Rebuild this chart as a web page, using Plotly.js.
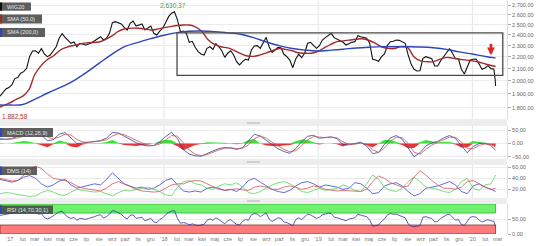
<!DOCTYPE html>
<html><head><meta charset="utf-8">
<script src="https://cdn.plot.ly/plotly-3.0.1.min.js"></script>
<style>html,body{margin:0;padding:0;background:#fff;}#chart{width:536px;height:246px;}</style>
</head><body><div id="chart"></div>
<script>
// ---------- DATA ----------
const weekDates = ['2016-12-09','2016-12-16','2016-12-23','2016-12-30',
'2017-01-06','2017-01-13','2017-01-20','2017-01-27','2017-02-03','2017-02-10','2017-02-17','2017-02-24','2017-03-03','2017-03-10','2017-03-17','2017-03-24','2017-03-31','2017-04-07','2017-04-14','2017-04-21','2017-04-28','2017-05-05','2017-05-12','2017-05-19','2017-05-26','2017-06-02','2017-06-09','2017-06-16','2017-06-23','2017-06-30','2017-07-07','2017-07-14','2017-07-21','2017-07-28','2017-08-04','2017-08-11','2017-08-18','2017-08-25','2017-09-01','2017-09-08','2017-09-15','2017-09-22','2017-09-29','2017-10-06','2017-10-13','2017-10-20','2017-10-27','2017-11-03','2017-11-10','2017-11-17','2017-11-24','2017-12-01','2017-12-08','2017-12-15','2017-12-22','2017-12-29',
'2018-01-05','2018-01-12','2018-01-19','2018-01-26','2018-02-02','2018-02-09','2018-02-16','2018-02-23','2018-03-02','2018-03-09','2018-03-16','2018-03-23','2018-03-30','2018-04-06','2018-04-13','2018-04-20','2018-04-27','2018-05-04','2018-05-11','2018-05-18','2018-05-25','2018-06-01','2018-06-08','2018-06-15','2018-06-22','2018-06-29','2018-07-06','2018-07-13','2018-07-20','2018-07-27','2018-08-03','2018-08-10','2018-08-17','2018-08-24','2018-08-31','2018-09-07','2018-09-14','2018-09-21','2018-09-28','2018-10-05','2018-10-12','2018-10-19','2018-10-26','2018-11-02','2018-11-09','2018-11-16','2018-11-23','2018-11-30','2018-12-07','2018-12-14','2018-12-21','2018-12-28',
'2019-01-04','2019-01-11','2019-01-18','2019-01-25','2019-02-01','2019-02-08','2019-02-15','2019-02-22','2019-03-01','2019-03-08','2019-03-15','2019-03-22','2019-03-29','2019-04-05','2019-04-12','2019-04-19','2019-04-26','2019-05-03','2019-05-10','2019-05-17','2019-05-24','2019-05-31','2019-06-07','2019-06-14','2019-06-21','2019-06-28','2019-07-05','2019-07-12','2019-07-19','2019-07-26','2019-08-02','2019-08-09','2019-08-16','2019-08-23','2019-08-30','2019-09-06','2019-09-13','2019-09-20','2019-09-27','2019-10-04','2019-10-11','2019-10-18','2019-10-25','2019-11-01','2019-11-08','2019-11-15','2019-11-22','2019-11-29','2019-12-06','2019-12-13','2019-12-20','2019-12-27',
'2020-01-03','2020-01-10','2020-01-17','2020-01-24','2020-01-31','2020-02-07','2020-02-14','2020-02-21','2020-02-24','2020-02-25'];

const wig20 = [1882.58,1915,1938,1948,
1969,2019,2027,2062,2075,2103,2202,2252,2254,2232,2273,2226,2202,2217,2254,2290,2368,2411,2377,2346,2322,2334,2290,2322,2316,2306,2316,2327,2346,2368,2383,2352,2368,2415,2519,2529,2519,2506,2473,2447,2513,2536,2486,2493,2506,2447,2467,2486,2415,2399,2437,2464,
2519,2580,2615,2630.37,2547,2431,2437,2415,2331,2340,2285,2246,2226,2217,2276,2290,2267,2318,2290,2254,2196,2232,2254,2217,2159,2131,2159,2179,2173,2261,2297,2300,2276,2322,2377,2290,2240,2261,2285,2282,2223,2202,2173,2108,2182,2223,2193,2232,2322,2331,2306,2276,
2300,2352,2374,2399,2415,2374,2362,2343,2331,2306,2322,2331,2337,2393,2383,2377,2368,2322,2179,2173,2162,2202,2226,2303,2337,2340,2352,2349,2337,2322,2217,2139,2095,2081,2083,2188,2202,2196,2184,2122,2122,2167,2202,2246,2273,2232,2184,2184,2095,2056,2112,2173,
2179,2182,2139,2095,2106,2125,2100,2095,2010,1960];

const rsi = [62,64,66,67,
69,74,73,76,75,77,82,80,76,66,68,55,50,54,60,66,74,76,64,56,52,55,46,52,51,49,52,54,58,62,64,53,58,66,78,76,70,66,56,50,62,64,52,54,56,44,48,52,40,38,48,54,
64,72,76,78,52,36,38,36,30,34,30,28,30,32,46,50,46,54,48,42,34,44,48,40,32,30,42,48,46,64,68,66,58,64,70,50,42,48,54,52,40,38,34,28,48,54,48,56,66,64,58,52,
56,64,66,70,68,56,54,50,48,44,50,52,54,66,62,60,58,46,26,28,30,42,50,64,68,66,66,62,58,54,34,26,24,26,28,56,58,54,52,40,42,52,58,64,66,56,46,48,32,28,44,56,
58,56,46,40,44,48,44,42,30,25];

const smaDates = ['2016-12-09','2017-01-01','2017-01-15','2017-02-01','2017-02-15','2017-03-01','2017-03-15','2017-04-01','2017-04-15','2017-05-01','2017-05-15','2017-06-01','2017-07-01','2017-08-01','2017-08-15','2017-09-01','2017-09-15','2017-10-01','2017-11-01','2017-12-01','2017-12-15','2018-01-01','2018-01-15','2018-02-01','2018-02-15','2018-03-01','2018-03-15','2018-04-01','2018-04-15','2018-05-01','2018-05-15','2018-06-01','2018-06-15','2018-07-01','2018-07-15','2018-08-01','2018-08-15','2018-09-01','2018-09-15','2018-10-01','2018-10-15','2018-11-01','2018-11-15','2018-12-01','2018-12-15','2019-01-01','2019-01-15','2019-02-01','2019-02-15','2019-03-01','2019-03-15','2019-04-01','2019-04-15','2019-05-01','2019-05-15','2019-06-01','2019-06-15','2019-07-01','2019-07-15','2019-08-01','2019-08-15','2019-09-01','2019-09-15','2019-10-01','2019-10-15','2019-11-01','2019-11-15','2019-12-01','2019-12-15','2020-01-01','2020-01-15','2020-02-01','2020-02-15','2020-02-25'];
const sma50 = [1804,1833,1858,1884,1930,2050,2119,2179,2210,2261,2285,2302,2326,2334,2356,2393,2433,2459,2465,2448,2454,2470,2480,2491,2496,2496,2481,2433,2358,2311,2290,2280,2260,2230,2210,2205,2215,2236,2256,2274,2267,2254,2236,2232,2232,2248,2279,2314,2337,2344,2351,2359,2364,2350,2325,2288,2276,2274,2291,2283,2204,2165,2159,2159,2178,2196,2189,2180,2174,2166,2156,2139,2126,2118];

const sma200Dates = ['2016-12-09','2017-01-01','2017-02-01','2017-03-01','2017-04-01','2017-05-01','2017-06-01','2017-07-01','2017-08-01','2017-09-01','2017-10-01','2017-11-01','2017-12-01','2018-01-01','2018-02-01','2018-03-01','2018-04-01','2018-05-01','2018-06-01','2018-07-01','2018-08-01','2018-09-01','2018-10-01','2018-11-01','2018-12-01','2019-01-01','2019-02-01','2019-03-01','2019-04-01','2019-05-01','2019-06-01','2019-07-01','2019-08-01','2019-09-01','2019-10-01','2019-11-01','2019-12-01','2020-01-01','2020-02-01','2020-02-25'];
const sma200 = [1818,1818,1822,1860,1907,1949,2001,2067,2146,2226,2293,2331,2365,2397,2422,2435,2437,2432,2420,2407,2375,2334,2300,2274,2260,2252,2260,2268,2279,2286,2291,2290,2290,2288,2281,2267,2244,2225,2204,2192];

const oscDates = ['2016-12-09','2016-12-23','2017-01-06','2017-01-20','2017-02-03','2017-02-17','2017-03-03','2017-03-17','2017-03-31','2017-04-14','2017-04-28','2017-05-12','2017-05-26','2017-06-09','2017-06-23','2017-07-07','2017-07-21','2017-08-04','2017-08-18','2017-09-01','2017-09-15','2017-09-29','2017-10-13','2017-10-27','2017-11-10','2017-11-24','2017-12-08','2017-12-22','2018-01-05','2018-01-19','2018-02-02','2018-02-16','2018-03-02','2018-03-16','2018-03-30','2018-04-13','2018-04-27','2018-05-11','2018-05-25','2018-06-08','2018-06-22','2018-07-06','2018-07-20','2018-08-03','2018-08-17','2018-08-31','2018-09-14','2018-09-28','2018-10-12','2018-10-26','2018-11-09','2018-11-23','2018-12-07','2018-12-21','2019-01-04','2019-01-18','2019-02-01','2019-02-15','2019-03-01','2019-03-15','2019-03-29','2019-04-12','2019-04-26','2019-05-10','2019-05-24','2019-06-07','2019-06-21','2019-07-05','2019-07-19','2019-08-02','2019-08-16','2019-08-30','2019-09-13','2019-09-27','2019-10-11','2019-10-25','2019-11-08','2019-11-22','2019-12-06','2019-12-20','2020-01-03','2020-01-17','2020-01-31','2020-02-14','2020-02-25'];
const macd = [18,16,19,27,38,44,44,31,11,14,35,41,21,0,2,5,8,11,20,41,40,27,15,3,-5,-9,-8,6,26,42,18,-23,-40,-46,-48,-37,-28,-19,-15,-17,-22,-16,8,35,28,12,-5,-20,-30,-37,-19,7,27,31,20,23,25,18,-5,-5,-1,5,-10,-38,-34,-3,21,30,16,-18,-50,-35,-9,2,8,21,30,19,-9,-35,-11,0,1,-8,-25];
const macdSignal = [15,16,17,21,29,37,42,38,25,17,24,35,32,15,6,4,6,9,14,28,37,33,23,12,2,-5,-8,-2,12,30,28,2,-25,-40,-46,-42,-33,-24,-18,-16,-19,-18,-5,18,28,20,5,-10,-22,-31,-27,-8,14,26,24,22,24,21,6,-3,-3,2,-3,-24,-33,-17,8,24,22,0,-33,-40,-22,-6,4,14,24,23,6,-20,-20,-7,-2,-4,-14];
const macdHist = [3,0,2,6,9,7,2,-7,-14,-3,11,6,-11,-15,-4,1,2,2,6,13,3,-6,-8,-9,-7,-4,0,8,14,12,-10,-25,-15,-6,-2,5,5,5,3,-1,-3,2,13,17,0,-8,-10,-10,-8,-6,8,15,13,5,-4,1,1,-3,-11,-2,2,3,-7,-14,-1,14,13,6,-6,-18,-17,5,13,8,4,7,6,-4,-15,-15,9,7,3,-4,-11];
const diPlus = [38,35,33,36,42,45,40,30,24,28,35,38,28,22,25,27,30,28,38,50,40,30,26,22,24,20,22,28,36,40,28,17,15,17,15,22,24,22,18,20,16,24,36,40,33,26,20,16,14,18,26,32,34,30,24,28,26,24,20,22,32,30,22,12,14,26,30,32,26,16,8,12,22,24,26,30,34,28,16,12,26,30,24,20,16];
const diMinus = [12,14,13,10,9,7,8,14,18,15,10,9,15,20,18,17,15,16,12,8,14,18,17,20,22,24,20,16,10,8,24,34,36,30,28,22,20,26,30,28,32,24,14,12,16,22,28,32,34,30,24,16,14,18,22,18,20,22,28,24,18,16,30,46,38,24,18,16,22,34,42,34,24,22,20,16,14,20,34,40,22,18,28,30,46];
const adx = [40,38,35,36,45,55,62,58,48,40,38,36,32,26,22,20,18,17,22,30,34,30,25,20,17,16,15,16,22,28,30,30,34,36,35,30,25,20,18,19,21,19,18,24,26,24,20,20,24,26,24,20,22,26,24,20,18,17,18,17,16,16,20,34,44,40,32,28,24,26,42,54,46,36,28,22,22,20,24,34,36,30,24,20,22];

const monthTicks = ['2017-01-01','2017-02-01','2017-03-01','2017-04-01','2017-05-01','2017-06-01','2017-07-01','2017-08-01','2017-09-01','2017-10-01','2017-11-01','2017-12-01',
'2018-01-01','2018-02-01','2018-03-01','2018-04-01','2018-05-01','2018-06-01','2018-07-01','2018-08-01','2018-09-01','2018-10-01','2018-11-01','2018-12-01',
'2019-01-01','2019-02-01','2019-03-01','2019-04-01','2019-05-01','2019-06-01','2019-07-01','2019-08-01','2019-09-01','2019-10-01','2019-11-01','2019-12-01',
'2020-01-01','2020-02-01','2020-03-01'];
const monthLabels = ["'17",'lut','mar','kwi','maj','cze','lip','sie','wrz','paź','lis','gru',
"'18",'lut','mar','kwi','maj','cze','lip','sie','wrz','paź','lis','gru',
"'19",'lut','mar','kwi','maj','cze','lip','sie','wrz','paź','lis','gru',
"'20",'lut','mar'];
const yearLines = ['2018-01-01','2019-01-01','2020-01-01'];
const priceTicks = [1800,1900,2000,2100,2200,2300,2400,2500,2600,2700];
const macdTicks = [-50,0,50];
const dmsTicks = [20,40,60];
const rsiTicks = [0,50];
const rsiBands = [[70,100,'#6ef26e','#3aa83a'],[0,30,'#ff7a7a','#8a3030']];
const channelBox = {x0:'2018-02-01', x1:'2020-03-13', y0:2045, y1:2420};
const signalArrow = {x:'2020-02-14', y:2214};

// ---------- LAYOUT HELPERS ----------
const W=536, H=246, ML=0, MR=29, MT=0, MB=12;
const PW=W-ML-MR, PH=H-MT-MB;
const px = p => p/PW;
const py = p => 1 - p/PH;
function fmtPL(v){const s=v.toFixed(2).split('.');return s[0].replace(/\B(?=(\d{3})+(?!\d))/g,'.')+','+s[1];}

const dMain=[py(119),1], dMacd=[py(159),py(126)], dDms=[py(198),py(165)], dRsi=[0,py(204)];

const FONT='Arial, "Liberation Sans", sans-serif';
const yBase = {side:'right', anchor:'x', ticks:'outside', ticklen:3, tickcolor:'#b0b0b0',
  tickfont:{size:5.5,color:'#666',family:FONT}, tickformat:',.2f', gridcolor:'#ececec', gridwidth:1,
  zeroline:false, showline:true, linecolor:'#dedede', linewidth:1, fixedrange:true};

const histPos = macdHist.map(v => v>0 ? v : 0);
const histNeg = macdHist.map(v => v<0 ? v : 0);

const traces = [
  {x:weekDates, y:wig20, type:'scatter', mode:'lines', line:{color:'#111',width:1.1}, yaxis:'y'},
  {x:smaDates, y:sma50, type:'scatter', mode:'lines', line:{color:'#a32a2a',width:1.4,shape:'spline'}, yaxis:'y'},
  {x:sma200Dates, y:sma200, type:'scatter', mode:'lines', line:{color:'#2e46b8',width:1.4,shape:'spline'}, yaxis:'y'},
  {x:oscDates, y:histPos, type:'scatter', mode:'lines', fill:'tozeroy', fillcolor:'#3ee03e', line:{width:0,color:'#3ee03e'}, yaxis:'y2'},
  {x:oscDates, y:histNeg, type:'scatter', mode:'lines', fill:'tozeroy', fillcolor:'#e83434', line:{width:0,color:'#e83434'}, yaxis:'y2'},
  {x:oscDates, y:macd, type:'scatter', mode:'lines', line:{color:'#3c3c96',width:0.8}, yaxis:'y2'},
  {x:oscDates, y:macdSignal, type:'scatter', mode:'lines', line:{color:'#c05858',width:0.8}, yaxis:'y2'},
  {x:oscDates, y:diPlus, type:'scatter', mode:'lines', line:{color:'#3a46c8',width:0.8}, yaxis:'y3'},
  {x:oscDates, y:diMinus, type:'scatter', mode:'lines', line:{color:'#5ad25a',width:0.8}, yaxis:'y3'},
  {x:oscDates, y:adx, type:'scatter', mode:'lines', line:{color:'#d05858',width:0.8}, yaxis:'y3'},
  {x:weekDates, y:rsi, type:'scatter', mode:'lines', line:{color:'#34349c',width:0.8}, yaxis:'y4'}
];

const shapes = [];
[[119,126,123],[159,165,162],[198,204,201]].forEach(([a,b,h])=>{
  shapes.push({type:'rect', xref:'paper', yref:'paper', x0:0, x1:1, y0:py(b), y1:py(a), fillcolor:'#ededed', line:{width:0}, layer:'below'});
  shapes.push({type:'rect', xref:'paper', yref:'paper', x0:px(247), x1:px(260), y0:py(h+1), y1:py(h-1), fillcolor:'#cfcfcf', line:{width:0}});
});
yearLines.forEach(d=>{
  [dMain,dMacd,dDms].forEach(dm=>{
    shapes.push({type:'line', xref:'x', yref:'paper', x0:d, x1:d, y0:dm[0], y1:dm[1], line:{color:'#e4e4e4',width:1}, layer:'below'});
  });
});
rsiBands.forEach(([lo,hi,fc,lc])=>{
  shapes.push({type:'rect', xref:'x', yref:'y4', x0:weekDates[0], x1:weekDates[weekDates.length-1], y0:lo, y1:hi, fillcolor:fc, line:{color:lc,width:0.8}, layer:'below'});
});
shapes.push({type:'rect', xref:'x', yref:'y', x0:channelBox.x0, x1:channelBox.x1, y0:channelBox.y0, y1:channelBox.y1, line:{color:'#4a4a4a',width:1.3}, fillcolor:'rgba(0,0,0,0)'});

const legendBoxes = [
  ['WIG20', 2.5, 10.7, 31, '#111'],
  ['SMA (50,0)', 14.5, 23.5, 42, '#a32a2a'],
  ['SMA (200,0)', 28, 37, 45, '#2e46b8'],
  ['MACD (12,26,9)', 128, 137, 53, '#2e46b8'],
  ['DMS (14)', 166.5, 175, 37, '#2e46b8'],
  ['RSI (14,70,30,1)', 205.5, 214, 53, '#2e46b8']
];
const annotations = [];
legendBoxes.forEach(([t,y0,y1,x1,c])=>{
  shapes.push({type:'rect', xref:'paper', yref:'paper', x0:px(0), x1:px(x1), y0:py(y1), y1:py(y0), fillcolor:'rgba(72,72,72,0.88)', line:{width:0}});
  shapes.push({type:'rect', xref:'paper', yref:'paper', x0:px(0), x1:px(2), y0:py(y1), y1:py(y0), fillcolor:c, line:{width:0}});
  annotations.push({xref:'paper', yref:'paper', x:px(5), y:py((y0+y1)/2), xanchor:'left', yanchor:'middle', text:t, showarrow:false, font:{size:5.6,color:'#e8e8e8',family:FONT}});
});

const maxV = Math.max(...wig20), minV = Math.min(...wig20);
const maxI = wig20.indexOf(maxV), minI = wig20.indexOf(minV);
annotations.push({xref:'x', yref:'y', x:weekDates[maxI], y:Math.log10(maxV), text:fmtPL(maxV), showarrow:false, yanchor:'bottom', yshift:1, xshift:-1, font:{size:6.5,color:'#4e9a3e',family:FONT}});
annotations.push({xref:'x', yref:'y', x:weekDates[minI], y:Math.log10(minV), text:fmtPL(minV), showarrow:false, xanchor:'left', yanchor:'middle', yshift:-20, font:{size:6.5,color:'#a83232',family:FONT}});
annotations.push({xref:'x', yref:'y', x:signalArrow.x, y:Math.log10(signalArrow.y), ax:0, ay:-13, showarrow:true, arrowhead:2, arrowsize:0.6, arrowwidth:2.6, arrowcolor:'#e02424', text:''});

const layout = {
  width:W, height:H, margin:{l:ML,r:MR,t:MT,b:MB,pad:0},
  paper_bgcolor:'#ffffff', plot_bgcolor:'#ffffff', showlegend:false,
  separators:',.', font:{family:FONT,size:6,color:'#666'},
  xaxis:{type:'date', range:['2016-12-09','2020-03-23'], anchor:'y4', tickmode:'array', tickvals:monthTicks, ticktext:monthLabels,
    tickfont:{size:5.5,color:'#777',family:FONT}, showgrid:false, ticks:'', zeroline:false, showline:false, fixedrange:true},
  yaxis: Object.assign({}, yBase, {domain:dMain, type:'log', range:[Math.log10(1720.4), Math.log10(2756)], tickmode:'array', tickvals:priceTicks}),
  yaxis2: Object.assign({}, yBase, {domain:dMacd, range:[-58.3,65.8], tickmode:'array', tickvals:macdTicks}),
  yaxis3: Object.assign({}, yBase, {domain:dDms, range:[4.2,64.2], tickmode:'array', tickvals:dmsTicks}),
  yaxis4: Object.assign({}, yBase, {domain:dRsi, range:[0,100], tickmode:'array', tickvals:rsiTicks}),
  shapes:shapes, annotations:annotations
};

Plotly.newPlot('chart', traces, layout, {staticPlot:true, displayModeBar:false});
</script>
</body></html>
